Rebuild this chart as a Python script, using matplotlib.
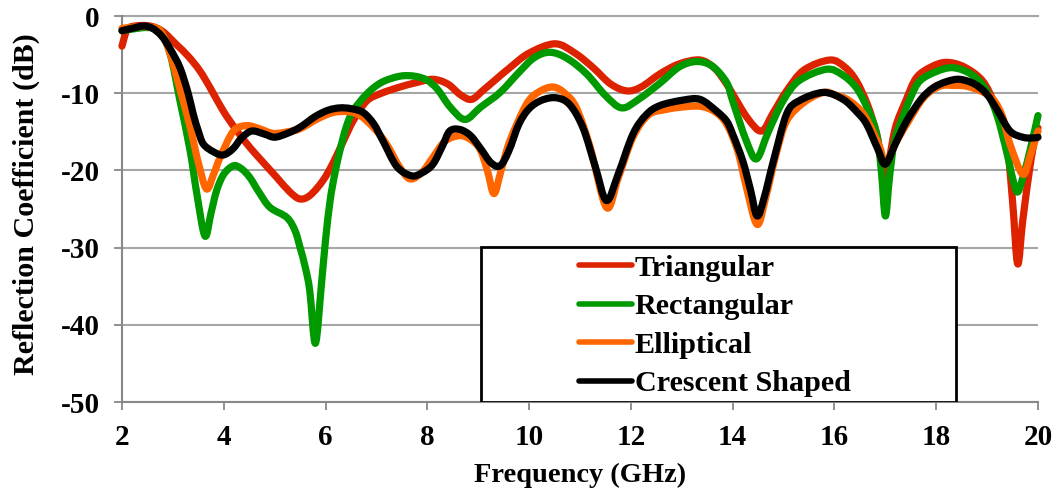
import matplotlib
matplotlib.use('Agg')
import matplotlib.pyplot as plt
from matplotlib.patches import Rectangle, PathPatch
from matplotlib.path import Path
from matplotlib.lines import Line2D

plt.rcParams['font.family'] = ['Liberation Serif', 'DejaVu Serif']
plt.rcParams['font.weight'] = 'bold'
plt.rcParams['axes.unicode_minus'] = False

# --- данные (частота в ГГц, коэффициент отражения в дБ) ---
tri_f = [2.0, 2.1, 2.25, 2.55, 2.8, 3.07, 3.3, 3.53, 3.75, 3.99, 4.25, 4.51, 4.78, 5.04,
         5.3, 5.5, 5.7, 5.95, 6.15, 6.35, 6.55, 6.81, 7.1, 7.46, 7.8, 8.11, 8.4, 8.65,
         8.87, 9.1, 9.35, 9.62, 10.0, 10.51, 10.9, 11.26, 11.6, 11.92, 12.2, 12.57,
         12.95, 13.36, 13.65, 13.88, 14.0, 14.3, 14.57, 14.8, 15.06, 15.4, 15.91, 16.2,
         16.43, 16.65, 16.83, 16.93, 17.0, 17.08, 17.2, 17.4, 17.61, 17.9, 18.2, 18.55,
         18.91, 19.15, 19.38, 19.5, 19.6, 19.7, 19.84, 19.95, 20.0]
tri_db = [-3.9, -1.8, -1.3, -1.3, -2.0, -3.7, -5.2, -7.1, -9.5, -12.3, -14.8, -17.0, -19.0,
          -20.9, -22.8, -23.7, -23.2, -21.3, -19.0, -16.2, -13.5, -11.0, -10.0, -9.2,
          -8.6, -8.2, -8.8, -10.2, -10.8, -9.6, -8.2, -6.7, -4.8, -3.6, -4.8, -6.7, -8.8,
          -9.7, -9.2, -7.5, -6.2, -5.7, -6.8, -8.8, -10.1, -13.3, -14.9, -12.5, -9.7,
          -7.0, -5.7, -6.6, -8.4, -11.5, -15.3, -19.0, -20.9, -18.5, -14.4, -11.0, -8.0,
          -6.6, -6.0, -6.6, -8.4, -11.5, -16.2, -24.0, -32.1, -26.5, -19.6, -15.5, -14.5]

rect_f = [2.0, 2.3, 2.5, 2.75, 2.95, 3.14, 3.34, 3.47, 3.63, 3.75, 3.86, 4.0, 4.19, 4.35,
          4.51, 4.7, 4.91, 5.24, 5.4, 5.5, 5.6, 5.69, 5.8, 5.92, 6.0, 6.09, 6.18, 6.28,
          6.4, 6.54, 6.81, 7.1, 7.46, 7.75, 7.99, 8.2, 8.45, 8.74, 9.05, 9.43, 9.8, 10.1,
          10.41, 10.75, 11.13, 11.5, 11.82, 12.15, 12.57, 12.95, 13.29, 13.6, 13.88, 14.0,
          14.27, 14.47, 14.7, 14.99, 15.3, 15.84, 16.15, 16.43, 16.65, 16.83, 16.92, 17.0,
          17.08, 17.17, 17.29, 17.5, 17.68, 18.0, 18.33, 18.7, 18.99, 19.2, 19.38, 19.5,
          19.6, 19.72, 19.84, 20.0]
rect_db = [-1.9, -1.6, -1.5, -1.9, -5.0, -11.0, -17.5, -23.0, -28.5, -25.5, -22.6, -20.5,
           -19.4, -19.8, -20.9, -22.9, -24.8, -26.1, -27.8, -30.0, -32.5, -35.6, -42.4,
           -34.7, -29.0, -23.9, -20.5, -17.5, -14.5, -12.3, -10.1, -8.6, -7.8, -7.8, -8.3,
           -9.5, -11.8, -13.4, -11.8, -9.9, -7.3, -5.4, -4.7, -5.5, -7.5, -10.3, -11.9,
           -10.8, -8.7, -6.6, -5.9, -6.5, -8.6, -11.0, -16.2, -18.5, -15.0, -11.0, -8.4,
           -6.9, -7.6, -9.3, -12.0, -15.3, -20.0, -25.9, -21.0, -16.5, -14.0, -10.5, -8.4,
           -7.2, -6.7, -7.6, -9.7, -13.0, -17.5, -21.0, -22.8, -20.5, -17.5, -12.9]

ell_f = [2.0, 2.3, 2.5, 2.75, 2.95, 3.14, 3.34, 3.5, 3.66, 3.8, 3.93, 4.19, 4.45, 4.7,
         4.97, 5.25, 5.5, 5.85, 6.15, 6.45, 6.68, 6.95, 7.2, 7.45, 7.66, 7.9, 8.11, 8.35,
         8.64, 8.85, 9.03, 9.18, 9.31, 9.45, 9.62, 9.95, 10.2, 10.47, 10.7, 10.93, 11.2,
         11.52, 11.75, 12.04, 12.35, 12.7, 13.0, 13.36, 13.65, 13.88, 14.1, 14.27, 14.48,
         14.65, 14.85, 15.06, 15.4, 15.78, 16.0, 16.3, 16.6, 16.89, 17.0, 17.2, 17.42,
         17.75, 18.07, 18.35, 18.6, 18.9, 19.12, 19.3, 19.45, 19.7, 19.85, 20.0]
ell_db = [-1.6, -1.4, -1.4, -1.9, -5.0, -9.5, -14.4, -19.0, -22.4, -20.5, -18.3, -14.9,
          -14.2, -14.6, -15.2, -15.0, -14.6, -13.3, -12.5, -12.4, -12.9, -14.5, -16.6,
          -19.5, -21.1, -20.2, -18.3, -16.2, -15.5, -16.0, -17.2, -20.0, -23.0, -20.0,
          -16.2, -11.4, -9.8, -9.2, -10.0, -11.9, -17.0, -24.8, -21.0, -15.7, -12.8,
          -12.1, -11.8, -11.7, -12.4, -14.0, -17.5, -22.2, -27.0, -23.5, -18.0, -13.6,
          -11.2, -9.9, -10.2, -11.0, -13.0, -17.0, -19.2, -16.5, -14.0, -10.6, -9.1, -9.0,
          -9.1, -9.8, -10.8, -13.0, -16.6, -20.5, -18.0, -14.9]

cres_f = [2.0, 2.2, 2.42, 2.6, 2.78, 2.95, 3.14, 3.3, 3.4, 3.5, 3.6, 3.8, 3.99, 4.18, 4.35,
          4.55, 4.8, 5.0, 5.25, 5.5, 5.8, 6.05, 6.28, 6.5, 6.74, 6.95, 7.13, 7.4, 7.69,
          7.9, 8.11, 8.3, 8.44, 8.64, 8.85, 9.05, 9.25, 9.43, 9.6, 9.8, 10.0, 10.25,
          10.54, 10.8, 11.06, 11.3, 11.52, 11.75, 12.04, 12.3, 12.57, 13.02, 13.36, 13.68,
          13.88, 14.0, 14.2, 14.35, 14.48, 14.62, 14.8, 15.06, 15.3, 15.78, 16.17, 16.45,
          16.63, 16.85, 17.0, 17.2, 17.42, 17.7, 17.94, 18.2, 18.46, 18.75, 18.99, 19.2,
          19.45, 19.7, 19.9, 20.0]
cres_db = [-1.9, -1.6, -1.3, -1.6, -2.6, -4.3, -6.7, -10.0, -12.7, -14.9, -16.6, -17.6,
           -18.0, -17.2, -15.8, -14.9, -15.3, -15.7, -15.2, -14.4, -13.0, -12.2, -11.9,
           -12.0, -12.5, -14.0, -16.2, -19.5, -20.7, -20.3, -19.2, -16.8, -14.9, -14.7,
           -15.5, -17.2, -19.0, -19.4, -17.5, -14.0, -12.0, -10.9, -10.6, -11.5, -14.5,
           -19.5, -23.9, -20.5, -15.3, -12.8, -11.6, -10.9, -10.8, -12.3, -13.6, -15.3,
           -18.8, -22.5, -25.9, -23.5, -18.8, -12.7, -11.0, -9.9, -10.8, -12.5, -14.0,
           -17.2, -19.2, -16.5, -13.6, -10.8, -9.3, -8.5, -8.2, -8.8, -10.1, -12.2, -14.9,
           -15.7, -15.8, -15.7]

series = [('Triangular', tri_f, tri_db, '#dd2200'),
          ('Rectangular', rect_f, rect_db, '#009900'),
          ('Elliptical', ell_f, ell_db, '#ff6600'),
          ('Crescent Shaped', cres_f, cres_db, '#000000')]

x_ticks = [2, 4, 6, 8, 10, 12, 14, 16, 18, 20]
y_ticks = [0, -10, -20, -30, -40, -50]


def smooth_path(xs, ys):
    # сглаженная линия как в Excel: кривые Безье через точки (Catmull-Rom)
    pts = list(zip(xs, ys))
    n = len(pts)
    verts = [pts[0]]
    codes = [Path.MOVETO]
    for i in range(n - 1):
        p0 = pts[max(i - 1, 0)]
        p1 = pts[i]
        p2 = pts[i + 1]
        p3 = pts[min(i + 2, n - 1)]
        c1 = (p1[0] + (p2[0] - p0[0]) / 6, p1[1] + (p2[1] - p0[1]) / 6)
        c2 = (p2[0] - (p3[0] - p1[0]) / 6, p2[1] - (p3[1] - p1[1]) / 6)
        verts += [c1, c2, p2]
        codes += [Path.CURVE4] * 3
    return Path(verts, codes)


fig = plt.figure(figsize=(10.58, 4.94), dpi=100)
ax = fig.add_axes([0.1153, 0.1862, 0.8658, 0.7814])

handles = []
for name, f, db, col in series:
    ax.add_patch(PathPatch(smooth_path(f, db), facecolor='none', edgecolor=col, lw=5.2,
                           joinstyle='round', capstyle='round', clip_on=False, zorder=3))
    handles.append(Line2D([], [], color=col, lw=4, solid_capstyle='round', label=name))

ax.set_xlim(2, 20)
ax.set_ylim(-50, 0)
ax.set_xticks(x_ticks)
ax.set_yticks(y_ticks)
ax.tick_params(axis='both', direction='out', length=6, width=1.3, color='#888888',
               labelsize=21, pad=10)
for lab in ax.get_xticklabels() + ax.get_yticklabels():
    lab.set_fontweight('bold')

ax.grid(axis='y', color='#a6a6a6', lw=1.5, zorder=0)
ax.set_axisbelow(True)
for s in ['top', 'right']:
    ax.spines[s].set_visible(False)
for s in ['left', 'bottom']:
    ax.spines[s].set_color('#888888')
    ax.spines[s].set_linewidth(1.5)
ax.axhline(0, color='#a6a6a6', lw=1.5, zorder=0, clip_on=False)

ax.set_xlabel('Frequency (GHz)', fontsize=20.5, fontweight='bold', labelpad=8)
ax.set_ylabel('Reflection Coefficient (dB)', fontsize=21.6, fontweight='bold')
ax.yaxis.set_label_coords(-0.090, 0.513)

# рамка легенды отдельно, чтобы слева был большой отступ
ax.add_patch(Rectangle((0.392, 0.0), 0.5185, 0.4016, transform=ax.transAxes,
                       facecolor='white', edgecolor='black', lw=2, zorder=4))
leg = ax.legend(handles=handles, loc='center left', bbox_to_anchor=(0.499, 0.197),
                frameon=False, prop={'size': 21.7, 'weight': 'bold'}, handlelength=1.75,
                handletextpad=0.1, labelspacing=0.38, borderpad=0, borderaxespad=0)
leg.set_zorder(5)

fig.savefig('out.png', dpi=100)
